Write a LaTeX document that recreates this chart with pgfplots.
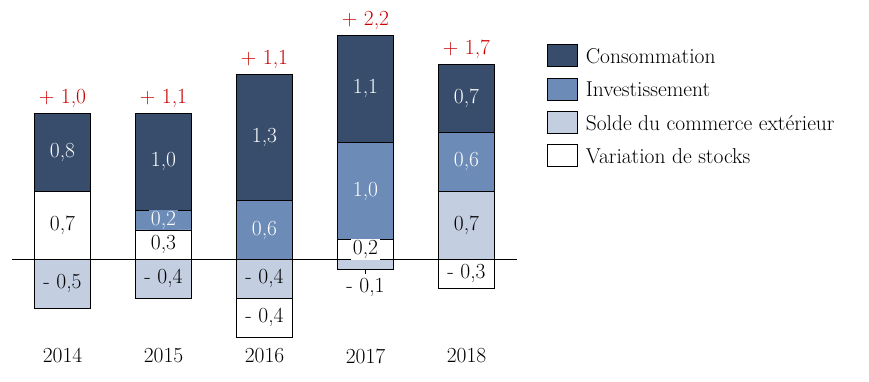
\documentclass[border=0pt]{standalone}
\usepackage{pgfplots}
\usepackage{pgfplotstable}
\pgfplotsset{compat=1.18}
\definecolor{cons}{RGB}{56,77,108}
\definecolor{inv}{RGB}{108,139,183}
\definecolor{sol}{RGB}{195,206,224}
\definecolor{lab}{RGB}{204,0,0}

% positive parts (stacked upward, bottom to top)
\pgfplotstableread{
x stk sol inv con
0 0.7 0   0   0.8
1 0.3 0   0.2 1.0
2 0   0   0.6 1.3
3 0.2 0   1.0 1.1
4 0   0.7 0.6 0.7
}\pos
% negative parts (stacked downward, top to bottom)
\pgfplotstableread{
x sol stk
0 -0.5 0
1 -0.4 0
2 -0.4 -0.4
3 -0.1 0
4 0    -0.3
}\negt
% value labels: position (middle of each segment) and text
\pgfplotstableread[col sep=semicolon]{
x;y;t
0;1.10;0,8
1;1.00;1,0
2;1.25;1,3
3;1.75;1,1
4;1.65;0,7
}\lcon
\pgfplotstableread[col sep=semicolon]{
x;y;t
1;0.40;0,2
2;0.30;0,6
3;0.70;1,0
4;1.00;0,6
}\linv
\pgfplotstableread[col sep=semicolon]{
x;y;t
0;0.35;0,7
1;0.15;0,3
3;0.10;0,2
}\lstk
\pgfplotstableread[col sep=semicolon]{
x;y;t
4;0.35;0,7
0;-0.25;- 0,5
1;-0.20;- 0,4
2;-0.20;- 0,4
2;-0.60;- 0,4
4;-0.15;- 0,3
}\lblk
% totals
\pgfplotstableread[col sep=semicolon]{
x;top;topL
0;1.5;+ 1,0
1;1.5;+ 1,1
2;1.9;+ 1,1
3;2.3;+ 2,2
4;2.0;+ 1,7
}\tot

\pgfplotsset{
  base/.style={scale only axis, width=505pt, height=341.9pt,
    xmin=-0.5, xmax=4.5, ymin=-0.85, ymax=2.66, enlargelimits=false,
    at={(0pt,0pt)}, anchor=south west,
    axis line style={draw=none}, tick style={draw=none},
    ytick=\empty, xtick=\empty, clip=false},
  legimg/.style={legend image code/.code={\draw[##1,draw=black,line width=0.8pt] (0pt,-10pt) rectangle (30pt,12pt);}},
  lbl/.style={draw=none, mark=none, nodes near coords, point meta=explicit symbolic,
    every node near coord/.append style={anchor=center, inner xsep=2pt, inner ysep=1pt}},
}

\begin{document}
\begin{tikzpicture}[font=\fontsize{21.5}{25}\selectfont]
\begin{axis}[base, ybar stacked, bar width=56pt,
  xtick={0,1,2,3,4}, xticklabels={2014,2015,2016,2017,2018},
  xticklabel style={yshift=-3pt},
  reverse legend, legend cell align=left,
  legend style={draw=none, fill=none, at={(1.059,0.871)}, anchor=north west,
    inner sep=0pt, row sep=10.5pt, column sep=0pt,
    nodes={inner xsep=8pt, inner ysep=0pt},
    font=\fontsize{21.5}{25}\selectfont},
  ]
\addplot[fill=white, draw=black, line width=0.8pt, legimg] table[x=x, y=stk] {\pos};
\addlegendentry{Variation de stocks}
\addplot[fill=sol, draw=black, line width=0.8pt, legimg] table[x=x, y=sol] {\pos};
\addlegendentry{Solde du commerce extérieur}
\addplot[fill=inv, draw=black, line width=0.8pt, legimg] table[x=x, y=inv] {\pos};
\addlegendentry{Investissement}
\addplot[fill=cons, draw=black, line width=0.8pt, legimg] table[x=x, y=con] {\pos};
\addlegendentry{Consommation}
\end{axis}

\begin{axis}[base, ybar stacked, bar width=56pt]
\addplot[fill=sol, draw=black, line width=0.8pt] table[x=x, y=sol] {\negt};
\addplot[fill=white, draw=black, line width=0.8pt] table[x=x, y=stk] {\negt};
\end{axis}

\begin{axis}[base]
\addplot[black, line width=0.8pt, mark=none] coordinates {(-0.5,0) (4.5,0)};
\addplot[black, line width=0.8pt, mark=none] coordinates {(3,-0.1) (3,-0.155)};
\addplot[lbl, every node near coord/.append style={text=white}] table[x=x, y=y, meta=t] {\lcon};
\addplot[lbl, every node near coord/.append style={text=white, fill=inv}] table[x=x, y=y, meta=t] {\linv};
\addplot[lbl, every node near coord/.append style={text=black, fill=white}] table[x=x, y=y, meta=t] {\lstk};
\addplot[lbl, every node near coord/.append style={text=black}] table[x=x, y=y, meta=t] {\lblk};
\addplot[draw=none, mark=none, nodes near coords, point meta=explicit symbolic,
  every node near coord/.append style={anchor=base, yshift=10pt, text=lab}]
  table[x=x, y=top, meta=topL] {\tot};
\addplot[draw=none, mark=none, nodes near coords, point meta=explicit symbolic,
  every node near coord/.append style={anchor=base, yshift=-24pt, text=black}]
  coordinates {(3,-0.1) [- 0,1]};
\end{axis}
\pgfresetboundingbox
\path[use as bounding box] (-12pt,-39pt) rectangle (857pt,342pt);
\end{tikzpicture}
\end{document}
